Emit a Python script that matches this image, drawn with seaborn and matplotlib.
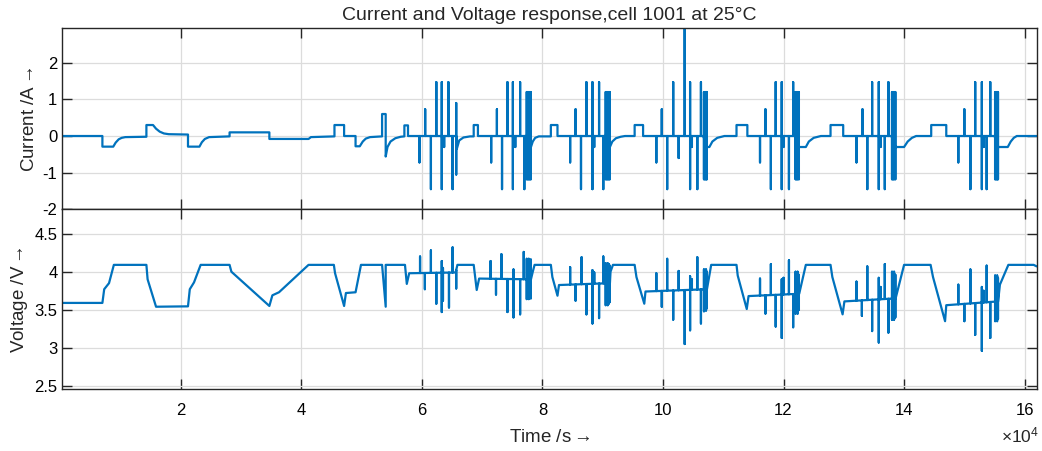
import numpy as np
import pandas as pd
import matplotlib
matplotlib.use("Agg")
import matplotlib.pyplot as plt
from matplotlib.ticker import FuncFormatter
import seaborn as sns

# ---------------- data (time in units of 1e4 s) ----------------
TIME_SCALE = 1e4

# current: piecewise (step) shape
cur_step_t = [0.035, 0.70, 0.70, 0.88, 0.92, 0.97, 1.02, 1.08, 1.43, 1.43, 1.54, 1.59, 1.65, 1.72,
              1.80, 2.12, 2.12, 2.31, 2.35, 2.40, 2.47, 2.81, 2.81, 3.47, 3.47, 4.12, 4.16, 4.55,
              4.55, 4.71, 4.71, 4.90, 4.90, 4.97, 5.02, 5.07, 5.14, 5.34, 5.34, 5.40, 5.40, 5.43,
              5.48, 5.56, 5.65, 5.71, 5.71, 5.77, 5.77,
              6.57, 6.58, 6.62, 6.69, 6.80, 6.86, 6.86, 6.93, 6.93,
              7.73, 7.81, 7.84, 7.88, 7.94, 8.14, 8.14, 8.25, 8.25,
              9.04, 9.12, 9.16, 9.22, 9.30, 9.37, 9.53, 9.53, 9.67, 9.67,
              10.67, 10.73, 10.77, 10.82, 10.90, 11.02, 11.22, 11.22, 11.40, 11.40,
              12.19, 12.26, 12.37, 12.42, 12.50, 12.62, 12.78, 12.78, 12.99, 12.99,
              13.79, 13.86, 14.00, 14.06, 14.13, 14.20, 14.45, 14.45, 14.70, 14.70,
              15.50, 15.56, 15.72, 15.77, 15.82, 15.87, 16.20]
cur_step_i = [0.0, 0.0, -0.29, -0.29, -0.18, -0.09, -0.05, -0.03, -0.02, 0.30, 0.30, 0.20, 0.12, 0.07,
              0.05, 0.04, -0.29, -0.29, -0.17, -0.08, -0.03, -0.01, 0.10, 0.10, -0.08, -0.08, -0.03, -0.01,
              0.30, 0.30, 0.0, 0.0, -0.28, -0.28, -0.15, -0.07, -0.03, -0.01, 0.60, 0.60, -0.56, -0.30,
              -0.15, -0.06, -0.02, -0.01, 0.29, 0.29, 0.0,
              0.0, -0.35, -0.12, -0.04, -0.01, -0.01, 0.30, 0.30, 0.0,
              0.0, -0.30, -0.15, -0.05, -0.01, -0.01, 0.30, 0.30, 0.0,
              0.0, -0.30, -0.15, -0.06, -0.02, 0.0, 0.0, 0.30, 0.30, 0.0,
              0.0, -0.30, -0.30, -0.15, -0.05, 0.0, 0.0, 0.30, 0.30, 0.0,
              0.0, -0.30, -0.30, -0.15, -0.05, 0.0, 0.0, 0.30, 0.30, 0.0,
              0.0, -0.30, -0.30, -0.15, -0.05, 0.0, 0.0, 0.30, 0.30, 0.0,
              0.0, -0.30, -0.30, -0.15, -0.05, 0.0, 0.0]

# current pulses (time, peak value)
cur_spike_t = [5.96, 6.055, 6.15, 6.24, 6.33, 6.33, 6.37, 6.44, 6.51, 6.57, 6.57,
               7.15, 7.245, 7.33, 7.42, 7.51, 7.51, 7.55, 7.63, 7.70,
               7.74, 7.74, 7.757, 7.757, 7.774, 7.774, 7.791, 7.791, 7.808, 7.808,
               8.46, 8.55, 8.64, 8.73, 8.83, 8.83, 8.86, 8.94, 9.01,
               9.05, 9.05, 9.067, 9.067, 9.084, 9.084, 9.101, 9.101, 9.118, 9.118,
               9.89, 9.98, 10.07, 10.17, 10.26, 10.36, 10.45, 10.45, 10.48, 10.57, 10.63,
               10.68, 10.68, 10.697, 10.697, 10.714, 10.714, 10.728, 10.728,
               11.61, 11.70, 11.79, 11.87, 11.97, 11.97, 12.00, 12.09, 12.16,
               12.20, 12.20, 12.217, 12.217, 12.234, 12.234, 12.255, 12.255,
               13.21, 13.31, 13.39, 13.47, 13.58, 13.58, 13.61, 13.68, 13.74,
               13.80, 13.80, 13.817, 13.817, 13.834, 13.834, 13.855, 13.855,
               14.90, 15.00, 15.10, 15.18, 15.29, 15.29, 15.32, 15.37, 15.43,
               15.51, 15.51, 15.527, 15.527, 15.544, 15.544, 15.558, 15.558]
cur_spike_i = [-0.72, 0.73, -1.45, 1.47, 1.47, -1.45, -0.30, 1.47, -1.45, 0.90, -1.05,
               -0.72, 0.73, -1.45, 1.47, 1.47, -1.45, -0.30, 1.47, -1.45,
               1.20, -1.18, 1.20, -1.18, 1.20, -1.18, 1.20, -1.18, 1.20, -1.18,
               -0.72, 0.73, -1.45, 1.47, 1.47, -1.45, -0.30, 1.47, -1.45,
               1.20, -1.18, 1.20, -1.18, 1.20, -1.18, 1.20, -1.18, 1.20, -1.18,
               -0.72, 0.73, -1.45, 1.47, -0.60, 3.00, 1.47, -1.45, -0.30, -1.45, 1.47,
               1.20, -1.18, 1.20, -1.18, 1.20, -1.18, 1.20, -1.18,
               -0.72, 0.73, -1.45, 1.47, 1.47, -1.45, -0.30, -1.45, 1.47,
               1.20, -1.18, 1.20, -1.18, 1.20, -1.18, 1.20, -1.18,
               -0.72, 0.73, -1.45, 1.47, 1.47, -1.45, -0.30, -1.45, 1.47,
               1.20, -1.18, 1.20, -1.18, 1.20, -1.18, 1.20, -1.18,
               -0.72, 0.73, -1.45, 1.47, 1.47, -1.45, -0.30, -1.45, 1.47,
               1.20, -1.18, 1.20, -1.18, 1.20, -1.18, 1.20, -1.18]

# voltage: piecewise shape
volt_step_t = [0.035, 0.70, 0.73, 0.81, 0.89, 1.43, 1.45, 1.59, 2.12, 2.15, 2.22, 2.33, 2.81, 2.84,
               3.47, 3.52, 3.63, 4.12, 4.54, 4.56, 4.71, 4.74, 4.90, 4.99, 5.34, 5.40, 5.40, 5.72,
               5.75, 5.79, 6.56, 6.59, 6.86, 6.91, 6.95, 7.81, 7.84, 7.87, 8.14, 8.165, 8.25, 8.275,
               9.12, 9.13, 9.17, 9.53, 9.56, 9.69, 9.71, 10.73, 10.80, 11.22, 11.24, 11.39, 11.42,
               12.26, 12.37, 12.78, 12.81, 12.98, 13.01, 13.86, 14.00, 14.44, 14.48, 14.68, 14.70,
               15.56, 15.59, 15.73, 16.15, 16.20]
volt_step_v = [3.59, 3.59, 3.77, 3.85, 4.09, 4.09, 3.90, 3.54, 3.545, 3.77, 3.86, 4.09, 4.09, 4.00,
               3.55, 3.69, 3.73, 4.09, 4.09, 3.98, 3.55, 3.72, 3.73, 4.09, 4.09, 3.54, 4.09, 4.09,
               3.84, 3.98, 3.99, 4.09, 4.09, 3.76, 3.91, 3.90, 4.00, 4.09, 4.09, 3.93, 3.685, 3.825,
               3.85, 4.00, 4.09, 4.09, 3.93, 3.58, 3.74, 3.77, 4.09, 4.09, 3.95, 3.51, 3.68,
               3.71, 4.09, 4.09, 3.93, 3.44, 3.61, 3.65, 4.09, 4.09, 3.93, 3.35, 3.56,
               3.61, 3.83, 4.09, 4.09, 4.07]

volt_spike_t = [5.97, 6.05, 6.15, 6.24, 6.33, 6.33, 6.35, 6.35, 6.45, 6.51, 6.57,
                7.14, 7.23, 7.32, 7.42, 7.52, 7.52, 7.63, 7.69,
                7.74, 7.74, 7.757, 7.757, 7.774, 7.774, 7.791, 7.791, 7.808, 7.808,
                8.46, 8.55, 8.65, 8.73, 8.83, 8.83, 8.86, 8.94, 9.01,
                9.05, 9.05, 9.067, 9.067, 9.084, 9.084, 9.101, 9.101, 9.118, 9.118,
                9.89, 9.98, 10.07, 10.17, 10.26, 10.36, 10.45, 10.45, 10.48, 10.57, 10.63,
                10.68, 10.68, 10.697, 10.697, 10.714, 10.714, 10.728, 10.728,
                11.61, 11.70, 11.79, 11.87, 11.97, 11.97, 12.00, 12.09, 12.16,
                12.20, 12.20, 12.217, 12.217, 12.234, 12.234, 12.255, 12.255,
                13.21, 13.30, 13.39, 13.47, 13.58, 13.58, 13.61, 13.68, 13.74,
                13.80, 13.80, 13.817, 13.817, 13.834, 13.834, 13.855, 13.855,
                14.90, 15.00, 15.10, 15.18, 15.29, 15.29, 15.32, 15.37, 15.43,
                15.51, 15.51, 15.527, 15.527, 15.544, 15.544, 15.558, 15.558]
volt_spike_v = [4.20, 3.77, 4.28, 3.58, 4.14, 3.47, 4.05, 3.62, 3.53, 4.32, 3.78,
                4.14, 3.70, 4.23, 3.47, 3.40, 4.03, 3.44, 4.26,
                4.17, 3.64, 4.15, 3.65, 4.17, 3.64, 4.15, 3.66, 4.16, 3.65,
                4.06, 3.62, 4.19, 3.44, 3.32, 4.02, 3.99, 3.39, 4.20,
                4.11, 3.56, 4.10, 3.57, 4.11, 3.56, 4.10, 3.58, 4.08, 3.60,
                3.98, 3.54, 4.17, 3.37, 4.01, 3.05, 3.23, 3.94, 3.90, 4.19, 3.32,
                4.03, 3.48, 4.02, 3.50, 4.03, 3.49, 4.00, 3.52,
                3.91, 3.45, 4.10, 3.28, 3.13, 3.90, 3.92, 4.15, 3.27,
                4.00, 3.45, 3.98, 3.46, 4.00, 3.45, 3.96, 3.50,
                3.87, 3.42, 4.07, 3.22, 3.07, 3.92, 3.80, 4.10, 3.20,
                4.00, 3.37, 3.98, 3.38, 4.00, 3.37, 3.96, 3.40,
                3.83, 3.35, 4.03, 3.17, 2.96, 3.80, 3.75, 4.08, 3.13,
                3.95, 3.35, 3.93, 3.36, 3.95, 3.35, 3.92, 3.38]

x_ticks = [2, 4, 6, 8, 10, 12, 14, 16]
cur_ticks = [-2, -1, 0, 1, 2]
volt_ticks = [2.5, 3, 3.5, 4, 4.5]


def build_trace(step_t, step_v, spike_t, spike_v):
    pts = [(t, 0, k, v) for k, (t, v) in enumerate(zip(step_t, step_v))]
    n = len(pts)
    for j, (t, p) in enumerate(zip(spike_t, spike_v)):
        base = float(np.interp(t, step_t, step_v))
        pts += [(t, 1, n + 3 * j, base), (t, 1, n + 3 * j + 1, p), (t, 1, n + 3 * j + 2, base)]
    pts.sort(key=lambda r: (r[0], r[1], r[2]))
    return pd.DataFrame({"t": [r[0] * TIME_SCALE for r in pts], "v": [r[3] for r in pts]})


cur_df = build_trace(cur_step_t, cur_step_i, cur_spike_t, cur_spike_i)
volt_df = build_trace(volt_step_t, volt_step_v, volt_spike_t, volt_spike_v)

# ---------------- style ----------------
sns.set_theme(style="white")
plt.rcParams["font.family"] = ["Liberation Sans", "DejaVu Sans"]
plt.rcParams["axes.unicode_minus"] = False
plt.rcParams["mathtext.fontset"] = "custom"
plt.rcParams["mathtext.rm"] = "Liberation Sans"
plt.rcParams["mathtext.it"] = "Liberation Sans"

LINE = "#0072BD"
AX = "#262626"
GRID = "#dcdcdc"
ARROW = r"$\!\!{\rightarrow}$"

fig = plt.figure(figsize=(10.42, 4.51), dpi=100)
ax1 = fig.add_axes([0.0598, 0.5359, 0.9351, 0.4014])
ax2 = fig.add_axes([0.0598, 0.1368, 0.9351, 0.3991])

sns.lineplot(data=cur_df, x="t", y="v", ax=ax1, estimator=None, sort=False,
             color=LINE, linewidth=1.6)
sns.lineplot(data=volt_df, x="t", y="v", ax=ax2, estimator=None, sort=False,
             color=LINE, linewidth=1.6)

for ax in (ax1, ax2):
    ax.set_xlim(0.035 * TIME_SCALE, 16.2 * TIME_SCALE)
    ax.set_xticks([x * TIME_SCALE for x in x_ticks])
    ax.grid(True, color=GRID, linewidth=0.9)
    ax.set_axisbelow(True)
    for s in ax.spines.values():
        s.set_visible(True)
        s.set_color(AX)
        s.set_linewidth(1.0)
    ax.tick_params(direction="in", length=7, width=1.0, colors=AX, labelcolor="black",
                   top=True, right=True, bottom=True, left=True, labelsize=12)
    ax.tick_params(axis="x", pad=10)

ax1.set_ylim(-2, 2.94)
ax1.set_yticks(cur_ticks)
ax1.tick_params(labelbottom=False)
ax1.set_xlabel("")
ax1.set_ylabel("Current /A " + ARROW, fontsize=13.5, labelpad=3)
ax1.set_title("Current and Voltage response,cell 1001 at 25\u00b0C", fontsize=14, pad=6)

ax2.set_ylim(2.455, 4.82)
ax2.set_yticks(volt_ticks)
ax2.yaxis.set_major_formatter(FuncFormatter(lambda v, p: f"{v:g}"))
ax2.xaxis.set_major_formatter(FuncFormatter(lambda v, p: f"{v / TIME_SCALE:g}"))
ax2.set_xlabel("Time /s " + ARROW, fontsize=13.5, labelpad=8)
ax2.set_ylabel("Voltage /V " + ARROW, fontsize=13.5, labelpad=3)

fig.text(0.997, 0.012, r"$\times10^{4}$", ha="right", va="bottom", fontsize=12.5)

fig.savefig("out.png", dpi=100)
